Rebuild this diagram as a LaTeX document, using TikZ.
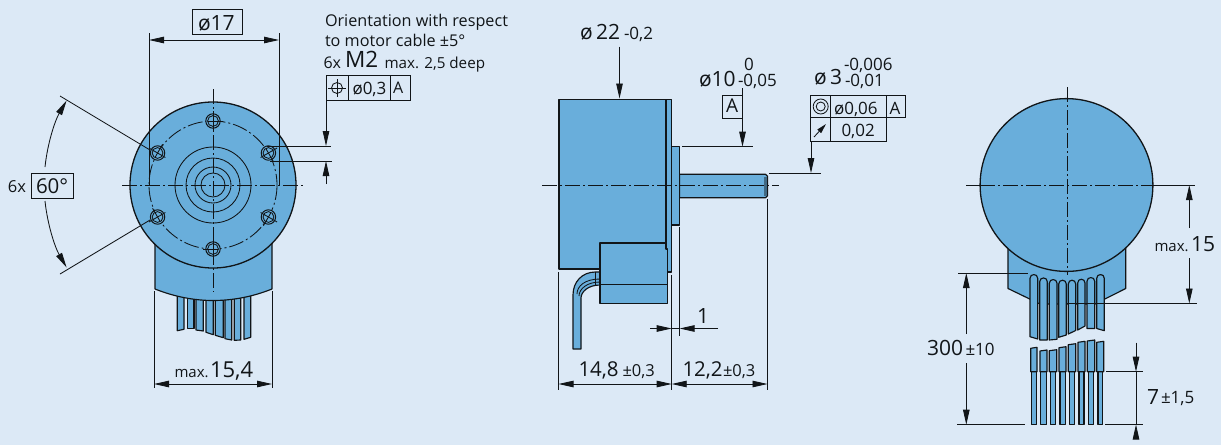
\documentclass[tikz,border=0pt]{standalone}
\usepackage{fontspec}
\setmainfont{Open Sans}
\usetikzlibrary{arrows.meta}
\definecolor{bgc}{HTML}{DCE9F6}
\definecolor{bluec}{HTML}{69AEDB}
\definecolor{inkc}{HTML}{111518}
\newcommand{\fs}[1]{\fontsize{#1}{#1}\selectfont}
\tikzset{
  part/.style={draw=inkc,fill=bluec,line width=1.15pt,line join=round},
  thick line/.style={draw=inkc,line width=1.1pt},
  thin line/.style={draw=inkc,line width=0.85pt},
  center line/.style={draw=inkc,line width=0.85pt,dash pattern=on 15pt off 3pt on 2pt off 3pt},
  dim/.style={thin line,{Stealth[inset=0pt,length=15pt,width=6.5pt]}-{Stealth[inset=0pt,length=15pt,width=6.5pt]}},
  dimend/.style={thin line,-{Stealth[inset=0pt,length=15pt,width=6.5pt]}},
  frame/.style={draw=inkc,line width=0.85pt},
  lab/.style={anchor=base west,inner sep=0pt,outer sep=0pt,text=inkc},
}
\begin{document}
\begin{tikzpicture}[x=1pt,y=-1pt]
\useasboundingbox (0,0) rectangle (1221,445);
\fill[bgc] (0,0) rectangle (1221,445);

% ---------- LEFT VIEW ----------
\foreach \a/\b/\c/\d in {177.3/184/330.7/329.3,187.3/194/328.3/328.3,196/203.3/330/331,206/213.3/332.3/334.7,215.3/223.3/335.3/337.7,225/231.7/338.7/340,234.3/240.7/340.3/340,244/250.7/339.3/337.3}
  \draw[part] (\a,290) -- (\a,\c) -- (\b,\d) -- (\b,290) -- cycle;
\draw[part] (155,200) -- (155,289) .. controls (175,297) and (195,300.5) .. (213,300.5) .. controls (232,300.5) and (252,297) .. (272,289) -- (272,200) -- cycle;
\draw[part,line width=1.3pt] (213,185) circle[radius=83];
\draw[center line] (213,185) circle[radius=64];
\foreach \r in {38,27,18,12} \draw[thin line] (213,185) circle[radius=\r];
\foreach \a in {30,90,150,210,270,330} {
  \draw[part,line width=1pt] ({213+64*cos(\a)},{185-64*sin(\a)}) circle[radius=7.2];
  \draw[thin line] ({213+64*cos(\a)},{185-64*sin(\a)}) circle[radius=5.4];
  \draw[thin line] ({213+55*cos(\a)},{185-55*sin(\a)}) -- ({213+74*cos(\a)},{185-74*sin(\a)});
  \draw[thin line] ({213+64*cos(\a)-5*sin(\a)},{185-64*sin(\a)-5*cos(\a)}) -- ({213+64*cos(\a)+10*sin(\a)},{185-64*sin(\a)+10*cos(\a)});
}
\draw[center line] (122,185) -- (305,185);
\draw[center line] (213,89) -- (213,292);

% phi 17
\draw[thin line] (149,33) -- (149,186);
\draw[thin line] (279,33) -- (279,186);
\draw[dim] (149,40) -- (279,40);
\draw[frame] (192,9.5) rectangle (242,34);
\node[lab] at (198,30) {\fs{21}ø17};

% 60 deg
\draw[thin line] (60,96) -- (150,150);
\draw[thin line] (60,274) -- (150,220);
\draw[dimend] (45,167) arc[start angle=180-6,end angle=150,x radius=168,y radius=-168];
\draw[dimend] (45,201) arc[start angle=180+6,end angle=210,x radius=168,y radius=-168];
\draw[frame] (31,173) rectangle (73,198);
\node[lab] at (8,192) {\fs{16.5}6x};
\node[lab] at (36,193) {\fs{20.5}60°};

% max 15,4
\draw[thin line] (154,291) -- (154,388);
\draw[thin line] (272,291) -- (272,388);
\draw[dim] (154,384) -- (272,384);
\node[lab] at (174.5,377) {\fs{15}max.};
\node[lab] at (210,377) {\fs{22}15,4};

% Orientation text
\node[lab] at (325,26) {\fs{16.2}Orientation with respect};
\node[lab] at (325,46) {\fs{16.2}to motor cable ±5°};
\node[lab] at (323.5,68) {\fs{16}6x};
\node[lab] at (345,67.5) {\fs{22.5}M2};
\node[lab] at (384.5,68) {\fs{15.2}max. 2,5 deep};
\draw[frame] (326,75.5) rectangle (410,100);
\draw[frame] (348,75.5) -- (348,100);
\draw[frame] (390,75.5) -- (390,100);
\draw[thin line] (337,88) circle[radius=5.5];
\draw[thin line] (328,88) -- (346,88);
\draw[thin line] (337,79) -- (337,97);
\node[lab] at (352.5,94) {\fs{17}ø0,3};
\node[lab] at (393,93.7) {\fs{16}A};
\draw[thin line] (267,146) -- (331,146);
\draw[thin line] (270,161) -- (332,161);
\draw[dimend] (326,100) -- (326,146);
\draw[dimend] (326,184) -- (326,161);

% ---------- MIDDLE VIEW ----------
% cable
\draw[part] (600,272) -- (595.5,272) .. controls (582,272) and (573,282) .. (573,295) -- (573,349) -- (581,349) -- (581,298) .. controls (581,292) and (588,285) .. (600,285) -- cycle;
\draw[thin line] (595.5,272) -- (595.5,285);
\draw[thin line] (577,294) .. controls (577,286) and (585,279) .. (600,279);
\draw[thin line] (579,296) .. controls (579,289) and (587,282) .. (600,282);
% body
\draw[part] (666,99.3) rectangle (671.7,272);
\draw[part] (559,99.3) rectangle (666,269);
\draw[part] (671.7,146.7) rectangle (679.6,225);
\draw[part] (679.6,174.3) -- (765.5,174.3) -- (767.6,176.3) -- (767.6,195.7) -- (765.5,197.7) -- (679.6,197.7) -- cycle;
\draw[draw=none,fill=inkc!45!bluec] (764,176.5) rectangle (766.5,195.5);
% connector
\draw[part] (600,243) -- (666,243) -- (666,249) -- (667.7,249) -- (667.7,303.7) -- (600,303.7) -- cycle;
\draw[thick line] (600,284.5) -- (667.7,284.5);
\draw[center line] (542,185.5) -- (779,185.5);

% phi 22
\node[lab] at (580,39.5) {\fs{21}ø\,22};
\node[lab] at (624,39.5) {\fs{17}-0,2};
\draw[dimend] (619.5,46.5) -- (619.5,98.5);
% phi 10
\node[lab] at (699,86) {\fs{21}ø10};
\node[lab] at (744,70) {\fs{17}0};
\node[lab] at (738,86.5) {\fs{17}-0,05};
\draw[frame] (742.5,95) -- (722.7,95) -- (722.7,118) -- (742.5,118);
\node[lab] at (726,112.7) {\fs{19}A};
\draw[thin line] (682,146.7) -- (752.5,146.7);
\draw[dimend] (742.5,88) -- (742.5,146.7);
% phi 3
\node[lab] at (814,84.5) {\fs{21}ø\,3};
\node[lab] at (844,70) {\fs{17}-0,006};
\node[lab] at (845,86) {\fs{17}-0,01};
\draw[frame] (810.7,95.3) rectangle (905,117.7);
\draw[frame] (810.7,117.7) rectangle (886.7,141);
\draw[frame] (830.7,95.3) -- (830.7,141);
\draw[frame] (886.7,95.3) -- (886.7,117.7);
\draw[thin line] (820.7,106.5) circle[radius=7.5];
\draw[thin line] (820.7,106.5) circle[radius=4.5];
\draw[thin line,-{Stealth[inset=0pt,length=10pt,width=5pt]}] (814,137) -- (826,124);
\node[lab] at (834,114) {\fs{17}ø0,06};
\node[lab] at (889.7,114) {\fs{17}A};
\node[lab] at (841.5,136) {\fs{17}0,02};
\draw[thin line] (769,173) -- (821,173);
\draw[dimend] (811,141) -- (811,173);

% bottom dims
\draw[thin line] (558.5,272) -- (558.5,390);
\draw[thin line] (671.7,275) -- (671.7,390);
\draw[thin line] (767.5,199) -- (767.5,390);
\draw[thin line] (679.6,227) -- (679.6,336);
\draw[dim] (558.5,384) -- (671.7,384);
\draw[dim] (671.7,384) -- (767.5,384);
\draw[dimend] (650,328.5) -- (671.7,328.5);
\draw[dimend] (718,328.5) -- (679.6,328.5);
\draw[thin line] (671.7,328.5) -- (679.6,328.5);
\node[lab] at (578.5,376) {\fs{20.5}14,8};
\node[lab] at (622.5,376) {\fs{16.5}±0,3};
\node[lab] at (682.5,376) {\fs{20.5}12,2};
\node[lab] at (723,376) {\fs{16.5}±0,3};
\node[lab] at (697,323) {\fs{21}1};

% ---------- RIGHT VIEW ----------
\draw[part] (1008,240) -- (1008,288.5) -- (1040,304) -- (1095,304) -- (1125.7,288.5) -- (1125.7,240) -- cycle;
\draw[part,line width=1.3pt] (1066.5,185) circle[radius=86.4];
\foreach \a/\b/\t/\c/\d in {1030/1037.7/274.3/336.7/339,1039.7/1047.3/277.7/340/340,1049.3/1057/279.3/340/339.3,1058.7/1066.3/280/337.3/335,1068.3/1075.7/280/334/330.5,1077.7/1085/279/330/326,1087/1094.7/277.3/328.5/328.5,1096.7/1104.3/274.3/328.5/330.7}
  \draw[part] (\a,\c) -- (\a,\t+4) .. controls (\a,\t-1) and (\b,\t-1) .. (\b,\t+4) -- (\b,\d) -- cycle;
\foreach \a/\b/\t/\s/\e in {1030.7/1037/348.3/1031.3/1036.7,1040/1047/351/1040.7/1046.7,1049.3/1056.7/350.7/1050.3/1055.7,1059/1066/347.7/1060/1065.3,1068.3/1075.7/344.7/1069.7/1074.7,1078/1085/342.3/1079/1084,1087.3/1094.7/341/1088.3/1093.7,1096.7/1103.7/342.3/1098/1102.7} {
  \draw[part] (\s,371.7) rectangle (\e,424.7);
  \draw[part] (\a,\t) -- (\b,\t-1) -- (\b,371.7) -- (\a,371.7) -- cycle;
}
\draw[center line] (980,185) -- (1153,185);
\draw[thin line] (966,185) -- (980,185);
\draw[thin line] (1153,185) -- (1195,185);
\draw[center line] (1067.5,87) -- (1067.5,275);

% max 15
\draw[dimend] (1189.3,228) -- (1189.3,185);
\draw[thin line] (1067,303.5) -- (1196.7,303.5);
\draw[dimend] (1189.3,258) -- (1189.3,303.5);
\node[lab] at (1154.5,251) {\fs{15}max.};
\node[lab] at (1191,251) {\fs{21}15};

% 300
\draw[thin line] (958,273) -- (1028,273);
\draw[thin line] (957,424.7) -- (1025,424.7);
\draw[dimend] (966.3,334) -- (966.3,273);
\draw[dimend] (966.3,363) -- (966.3,424.7);
\node[lab] at (927,355.5) {\fs{21}300};
\node[lab] at (965.5,355) {\fs{17}±10};

% 7
\draw[thin line] (1106,371.7) -- (1143,371.7);
\draw[thin line] (1105,424.5) -- (1143,424.5);
\draw[dimend] (1136,342.7) -- (1136,371.7);
\draw[dimend] (1136,438) -- (1136,424.5);
\draw[thin line] (1136,371.7) -- (1136,424.5);
\node[lab] at (1147,404) {\fs{21}7};
\node[lab] at (1161,403.5) {\fs{17}±1,5};
\end{tikzpicture}
\end{document}
